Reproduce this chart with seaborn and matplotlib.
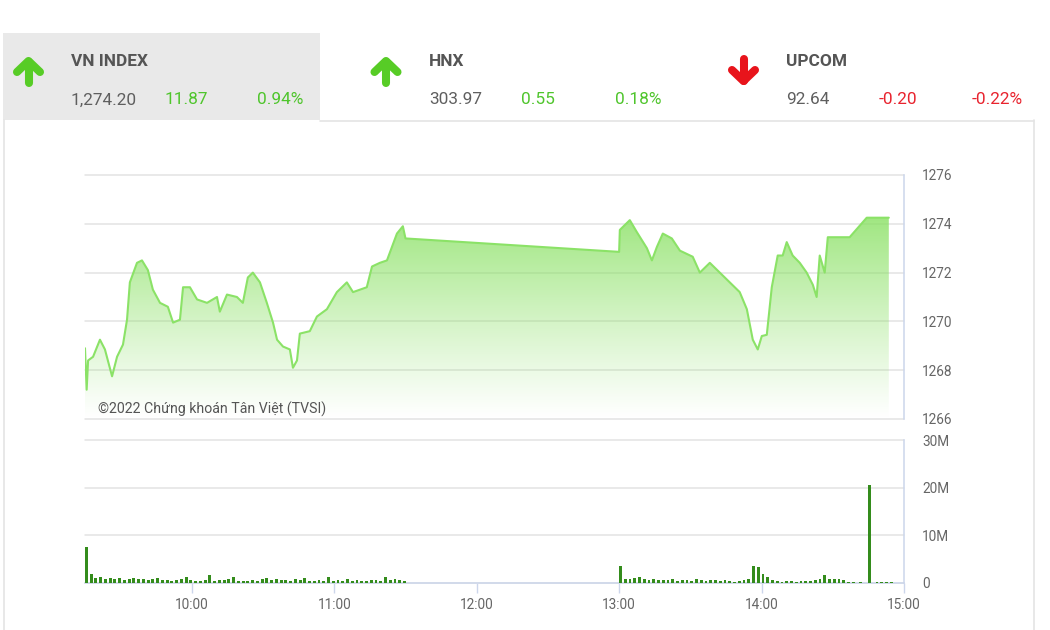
import numpy as np
import pandas as pd
import matplotlib
matplotlib.use("Agg")
import matplotlib.pyplot as plt
import seaborn as sns
from matplotlib.lines import Line2D
from matplotlib.patches import Rectangle

sns.set_theme(style="white")
plt.rcParams['font.family'] = ['Roboto', 'DejaVu Sans']

# ---------------- header data ----------------
index_names = ["VN INDEX", "HNX", "UPCOM"]
index_values = ["1,274.20", "303.97", "92.64"]
index_changes = ["11.87", "0.55", "-0.20"]
index_pcts = ["0.94%", "0.18%", "-0.22%"]
index_up = [True, True, False]

# ---------------- price data (minutes after 09:00) ----------------
price_minutes = [15.0, 15.7, 16.3, 18.4, 21.3, 23.4, 26.4, 28.5, 31.0, 32.7,
                 33.9, 36.9, 39.0, 41.5, 43.6, 46.6, 49.9, 52.1, 55.0, 56.3,
                 59.2, 62.2, 66.4, 70.6, 71.8, 74.8, 79.0, 81.5, 83.6, 85.7,
                 88.7, 91.6, 94.2, 95.9, 98.4, 101.3, 102.6, 104.3, 105.5, 109.7,
                 112.7, 116.9, 121.1, 125.3, 127.9, 133.7, 135.9, 139.2, 142.2, 144.3,
                 146.4, 148.9, 150.0,
                 240.0, 240.3, 244.5, 247.4, 251.7, 253.8, 255.9, 258.4, 262.2, 265.6,
                 271.0, 274.0, 278.2, 282.4, 286.6, 290.8, 293.8, 296.3, 298.4, 300.1,
                 302.2, 304.3, 306.8, 308.9, 310.6, 313.1, 316.1, 319.0, 321.6, 323.2,
                 324.5, 326.6, 327.9, 337.1, 344.3, 353.6]
price_values = [1268.9, 1267.2, 1268.4, 1268.55, 1269.25, 1268.85, 1267.75, 1268.55, 1269.05, 1270.07,
                1271.6, 1272.4, 1272.5, 1272.1, 1271.3, 1270.76, 1270.6, 1269.95, 1270.07, 1271.4,
                1271.4, 1270.9, 1270.76, 1271.0, 1270.4, 1271.1, 1271.0, 1270.76, 1271.8, 1272.0,
                1271.6, 1270.76, 1269.95, 1269.25, 1268.97, 1268.85, 1268.1, 1268.4, 1269.5, 1269.6,
                1270.2, 1270.5, 1271.2, 1271.6, 1271.2, 1271.4, 1272.25, 1272.4, 1272.5, 1273.05,
                1273.6, 1273.9, 1273.4,
                1272.85, 1273.75, 1274.15, 1273.67, 1273.0, 1272.5, 1273.05, 1273.6, 1273.4, 1272.9,
                1272.65, 1272.0, 1272.4, 1272.0, 1271.6, 1271.2, 1270.5, 1269.25, 1268.85, 1269.4,
                1269.45, 1271.4, 1272.7, 1272.7, 1273.25, 1272.7, 1272.4, 1272.0, 1271.5, 1271.0,
                1272.7, 1272.0, 1273.45, 1273.45, 1274.25, 1274.25]

# ---------------- volume data (millions of shares) ----------------
vol_am_start, vol_am_step = 15, 2
vol_am = [7.5, 1.9, 1.1, 1.3, 0.9, 1.0, 0.8, 1.1, 0.7, 0.9,
          1.0, 0.8, 0.9, 0.7, 0.8, 1.0, 0.6, 0.7, 0.5, 0.6,
          0.8, 1.3, 0.7, 0.4, 0.5, 0.6, 1.6, 0.5, 0.7, 0.6,
          0.8, 1.3, 0.5, 0.4, 0.5, 0.6, 0.5, 0.8, 1.0, 0.7,
          0.9, 0.6, 0.7, 0.5, 0.8, 0.6, 1.1, 0.4, 0.5, 0.6,
          0.4, 1.2, 0.5, 0.6, 0.4, 0.8, 0.5, 0.6, 0.4, 0.5,
          0.7, 0.6, 0.5, 1.2, 0.6, 0.8, 0.7, 0.5]
vol_pm_start, vol_pm_step = 240, 2
vol_pm = [3.6, 0.8, 0.9, 1.0, 1.3, 0.9, 0.7, 0.8, 0.6, 0.7,
          0.6, 0.8, 0.5, 0.6, 0.7, 0.5, 0.8, 0.6, 0.5, 0.7,
          0.6, 0.5, 0.7, 0.4, 0.3, 0.4, 0.6, 0.9, 3.6, 3.3,
          1.9, 1.3, 0.6, 0.4, 0.3, 0.5, 0.4, 0.3, 0.4, 0.5,
          0.4, 0.6, 0.8, 1.7, 0.9, 0.8, 0.8, 0.7]
vol_close_minutes = [336, 338, 341, 345, 348, 350, 352, 354]
vol_close = [0.2, 0.2, 0.15, 20.6, 0.3, 0.2, 0.3, 0.3]

hour_ticks = [60, 120, 180, 240, 300, 360]
hour_labels = ["10:00", "11:00", "12:00", "13:00", "14:00", "15:00"]
price_ticks = [1266, 1268, 1270, 1272, 1274, 1276]
vol_ticks = [0, 10, 20, 30]
vol_labels = ["0", "10M", "20M", "30M"]
watermark = "©2022 Chứng khoán Tân Việt (TVSI)"

# ---------------- figure ----------------
W, H = 1050, 630
fig = plt.figure(figsize=(W / 100, H / 100), dpi=100)
fig.patch.set_facecolor("white")

def fx(px):
    return px / W

def fy(py):
    return 1 - py / H

# header background & panel border
fig.patches.append(Rectangle((fx(3), fy(120)), fx(317), 87 / H, transform=fig.transFigure,
                             facecolor="#e9e9e9", edgecolor="none", zorder=0))
border_col = "#e4e4e4"
fig.add_artist(Line2D([fx(3.5), fx(3.5)], [fy(120), fy(640)], color=border_col, lw=1.2))
fig.add_artist(Line2D([fx(320), fx(1034)], [fy(120.5), fy(120.5)], color=border_col, lw=1.2))
fig.add_artist(Line2D([fx(1034), fx(1034)], [fy(120), fy(640)], color=border_col, lw=1.2))

green_arrow = "#57cc26"
red_arrow = "#e8141b"
green_txt = "#4fc52c"
red_txt = "#e8232e"
gray_txt = "#5f5f5f"

def draw_arrow(cx, up, color):
    lw = 5.8
    if up:
        chev_x = [cx - 11.5, cx, cx + 11.5]
        chev_y = [72, 61, 72]
        stem_y = [61.5, 83]
    else:
        chev_x = [cx - 11.5, cx, cx + 11.5]
        chev_y = [70, 81, 70]
        stem_y = [59, 80.5]
    fig.add_artist(Line2D([fx(v) for v in chev_x], [fy(v) for v in chev_y], color=color,
                          lw=lw, solid_capstyle="round", solid_joinstyle="round"))
    fig.add_artist(Line2D([fx(cx), fx(cx)], [fy(v) for v in stem_y], color=color,
                          lw=lw, solid_capstyle="round"))

name_x = [71, 429, 786]
chg_x = [164, 521, 879]
pct_right = [303, 661, 1023]
arrow_x = [28.5, 386, 743.5]
for i in range(3):
    col = green_txt if index_up[i] else red_txt
    draw_arrow(arrow_x[i], index_up[i], green_arrow if index_up[i] else red_arrow)
    fig.text(fx(name_x[i]), fy(60.5), index_names[i], fontsize=12.4, fontweight="bold",
             color="#555555", ha="left", va="center_baseline")
    fig.text(fx(name_x[i]), fy(98.5), index_values[i], fontsize=12.4, color=gray_txt,
             ha="left", va="center_baseline")
    fig.text(fx(chg_x[i]), fy(98.5), index_changes[i], fontsize=12.4, color=col,
             ha="left", va="center_baseline")
    fig.text(fx(pct_right[i]), fy(98.5), index_pcts[i], fontsize=12.4, color=col,
             ha="right", va="center_baseline")

# ---------------- price axes ----------------
ax1 = fig.add_axes([fx(85), fy(419), fx(904) - fx(85), (419 - 175) / H])
ax1.set_facecolor("white")
df_price = pd.DataFrame({"minute": price_minutes, "price": price_values})

ymin, ymax = 1266, 1276
fill = ax1.fill_between(df_price["minute"], df_price["price"], ymin, facecolor="none",
                        edgecolor="none")
grad_col = np.array([0.53, 0.88, 0.38])
n = 256
alpha = np.linspace(0.0, 0.98, n) ** 1.1
img = np.zeros((n, 2, 4))
img[:, :, :3] = grad_col
img[:, :, 3] = alpha[:, None]
im = ax1.imshow(img, extent=[15, 360, ymin, ymax], origin="lower", aspect="auto",
                zorder=1, interpolation="bilinear")
im.set_clip_path(fill.get_paths()[0], transform=ax1.transData)

sns.lineplot(data=df_price, x="minute", y="price", ax=ax1, color="#8be267",
             linewidth=1.5, zorder=3, estimator=None, sort=False)

ax1.set_xlim(15, 360)
ax1.set_ylim(ymin, ymax)
ax1.set_yticks(price_ticks)
ax1.set_yticklabels([str(t) for t in price_ticks])
ax1.yaxis.tick_right()
ax1.tick_params(axis="y", length=0, pad=13, labelsize=9.8, labelcolor="#666666")
ax1.set_xticks([])
ax1.set_xlabel("")
ax1.set_ylabel("")
ax1.grid(axis="y", color="#e3e3e3", linewidth=1.1, zorder=0)
ax1.set_axisbelow(True)
for s in ["left", "top", "bottom"]:
    ax1.spines[s].set_visible(False)
ax1.spines["right"].set_color("#ccd6eb")
ax1.spines["right"].set_linewidth(1.1)
for gl in ax1.get_ygridlines():
    gl.set_clip_on(False)
ax1.text(fx(98), fy(409), watermark, transform=fig.transFigure, fontsize=10.2,
         color="#555555", ha="left", va="center", zorder=5)

# ---------------- volume axes ----------------
ax2 = fig.add_axes([fx(85), fy(583), fx(904) - fx(85), (583 - 440) / H])
ax2.set_facecolor("white")
am_t = vol_am_start + vol_am_step * np.arange(len(vol_am))
pm_t = vol_pm_start + vol_pm_step * np.arange(len(vol_pm))
vol_t = np.concatenate([am_t, pm_t, vol_close_minutes])
vol_v = np.concatenate([vol_am, vol_pm, vol_close])
ax2.bar(vol_t, vol_v, width=1.2, color="#348c1c", linewidth=0, align="edge", zorder=3)
ax2.set_xlim(15, 360)
ax2.set_ylim(0, 30)
ax2.set_yticks(vol_ticks)
ax2.set_yticklabels(vol_labels)
ax2.yaxis.tick_right()
ax2.tick_params(axis="y", length=0, pad=13, labelsize=9.8, labelcolor="#666666")
ax2.set_xticks(hour_ticks)
ax2.set_xticklabels(hour_labels)
ax2.tick_params(axis="x", length=7.5, width=1, color="#ccd6eb", pad=3,
                labelsize=9.8, labelcolor="#666666", bottom=True)
ax2.grid(axis="y", color="#e3e3e3", linewidth=1.1, zorder=0)
ax2.grid(axis="x", visible=False)
ax2.set_axisbelow(True)
for gl in ax2.get_ygridlines():
    gl.set_clip_on(False)
for s in ["left", "top"]:
    ax2.spines[s].set_visible(False)
ax2.spines["right"].set_color("#ccd6eb")
ax2.spines["right"].set_linewidth(1.1)
ax2.spines["bottom"].set_color("#ccd6eb")
ax2.spines["bottom"].set_linewidth(1.1)
ax2.spines["bottom"].set_zorder(2)

fig.savefig("out.png", dpi=100, facecolor="white")
